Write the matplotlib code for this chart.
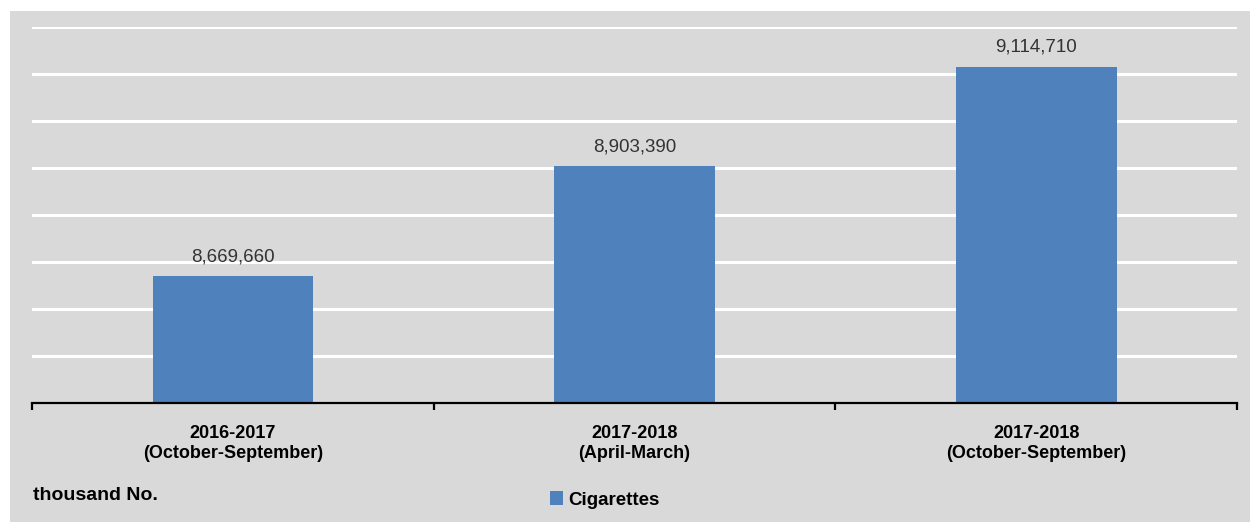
import matplotlib.pyplot as plt
from matplotlib.patches import Rectangle

# data (thousand No.)
periods = ['2016-2017\n(October-September)', '2017-2018\n(April-March)', '2017-2018\n(October-September)']
cigarettes = [8669660, 8903390, 9114710]
series_name = 'Cigarettes'
unit_label = 'thousand No.'

panel = '#d9d9d9'
bar_col = '#4f81bd'

plt.rcParams['font.family'] = ['Liberation Sans', 'DejaVu Sans']

fig = plt.figure(figsize=(12.5, 5.22), dpi=100, facecolor='white')
# grey chart area behind everything
fig.patches.append(Rectangle((10 / 1250, 0), 1, (522 - 11) / 522, transform=fig.transFigure,
                             facecolor=panel, edgecolor='none', zorder=-5))

ax = fig.add_axes([32 / 1250, (522 - 403) / 522, 1205 / 1250, 376 / 522])
ax.set_facecolor(panel)

x = range(len(periods))
bars = ax.bar(x, cigarettes, width=0.4, color=bar_col, label=series_name, zorder=3)

ax.set_xlim(-0.5, 2.5)
ax.set_ylim(8400000, 9200000)
ax.set_yticks(range(8400000, 9200001, 100000))
ax.yaxis.grid(True, color='white', linewidth=2.2)
ax.set_axisbelow(True)
ax.tick_params(axis='y', left=False, labelleft=False)

for s in ['top', 'right', 'left']:
    ax.spines[s].set_visible(False)
ax.spines['bottom'].set_linewidth(1.6)
ax.spines['bottom'].set_color('black')
ax.spines['bottom'].set_zorder(4)

ax.set_xticks(list(x))
ax.set_xticklabels(periods, fontsize=13, fontweight='bold', linespacing=1.2)
ax.tick_params(axis='x', which='major', length=0, pad=16)
ax.set_xticks([-0.5, 0.5, 1.5, 2.5], minor=True)
ax.tick_params(axis='x', which='minor', length=5, width=1.6, direction='out', color='black')

for b, v in zip(bars, cigarettes):
    ax.annotate(f'{v:,}', (b.get_x() + b.get_width() / 2, v), xytext=(0, 8),
                textcoords='offset points', ha='center', va='bottom',
                fontsize=13.5, color='#333333')

fig.text(33 / 1250, 1 - 496 / 522, unit_label, fontsize=14, fontweight='bold', va='center', ha='left')

fig.legend(handles=[bars], loc='center left', bbox_to_anchor=(533 / 1250, 1 - 500 / 522),
           frameon=False, handlelength=0.7, handleheight=0.7, handletextpad=0.3,
           prop={'size': 13.5, 'weight': 'bold'})

fig.savefig('out.png', dpi=100, facecolor='white')
